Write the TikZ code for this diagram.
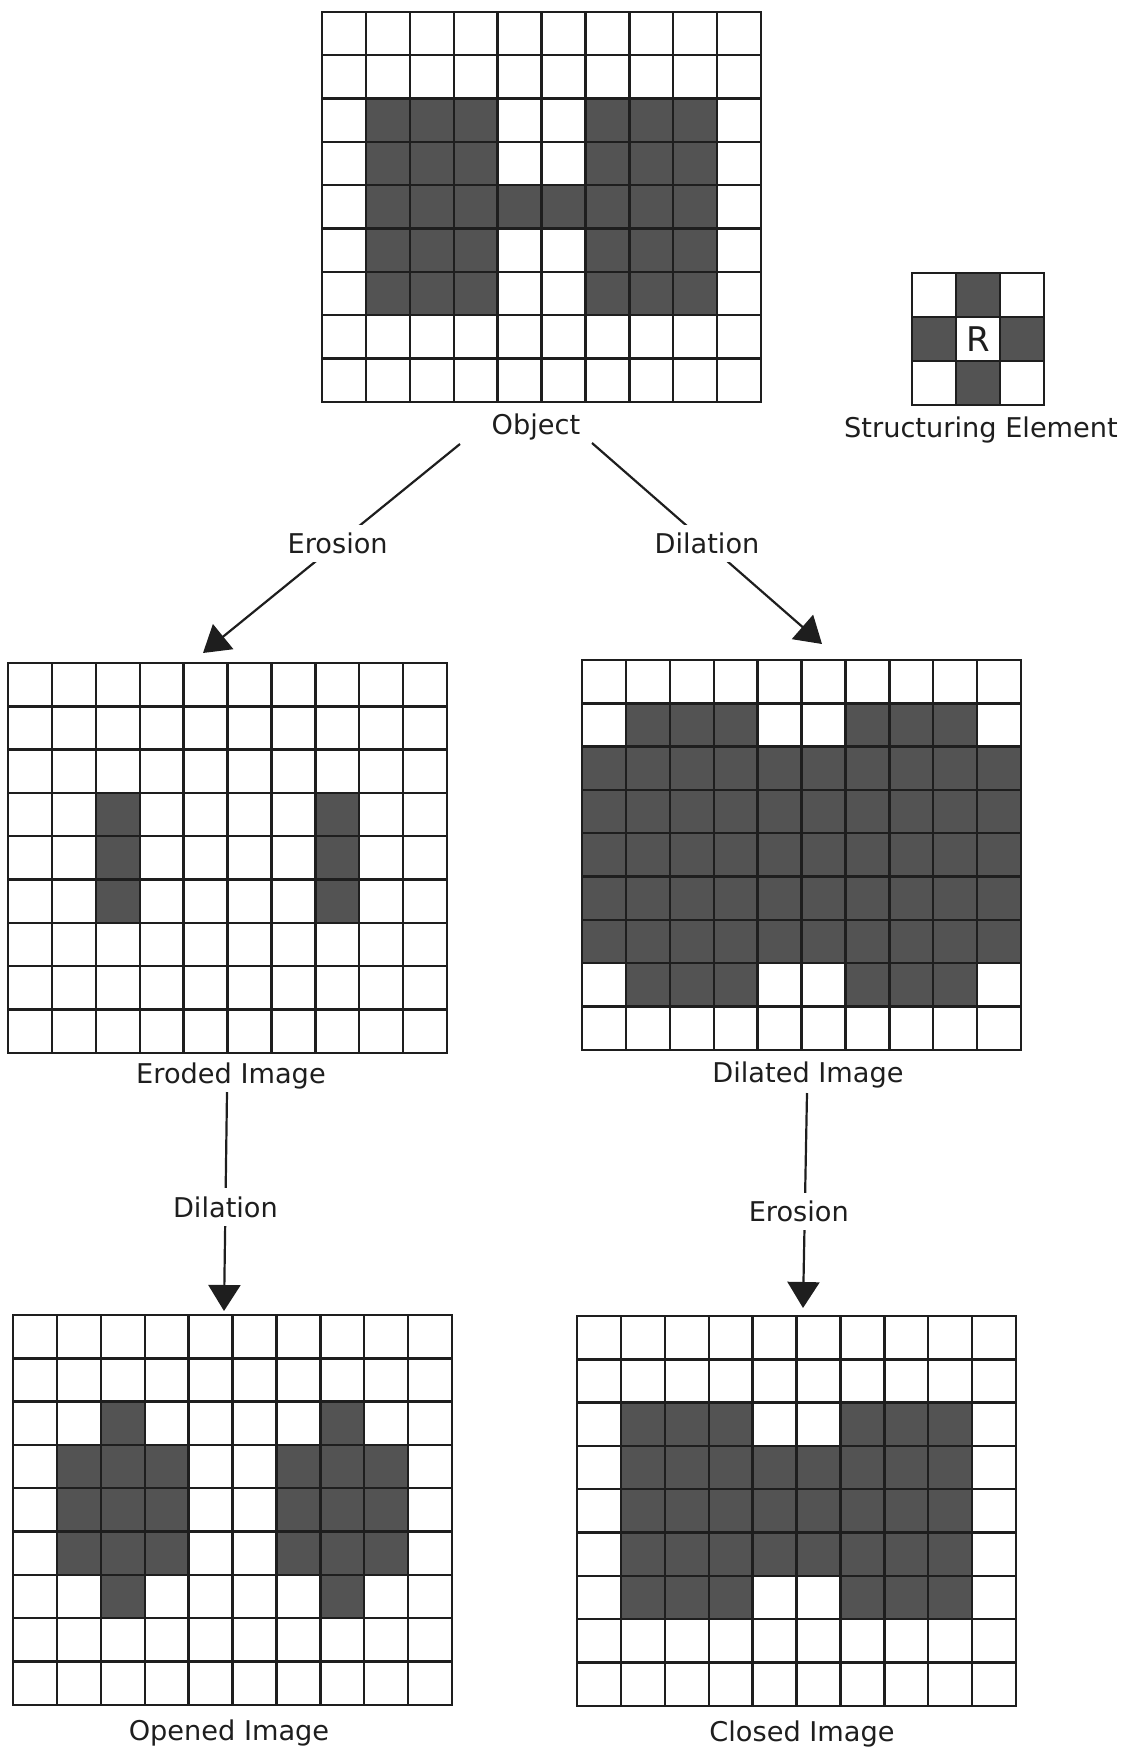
\documentclass[tikz,border=0pt]{standalone}
\usepackage{fontspec}
\setmainfont{DejaVu Sans}
\usepackage{tikz}
\usetikzlibrary{arrows.meta,positioning,calc}

\definecolor{cellgray}{HTML}{535353}
\definecolor{ink}{HTML}{1E1E1E}

\newcommand{\cellw}{43.9}
\newcommand{\cellh}{43.3}
\newcommand{\pixcell}[3]{\fill[cellgray] ($(#1)+(#2*\cellw,#3*\cellh)$) rectangle ++(\cellw,\cellh);}
\newcommand{\pixlines}[3]{%
  \foreach \i in {0,...,#2} \draw[gridline] ($(#1)+(\i*\cellw,0)$) -- ++(0,#3*\cellh);
  \foreach \j in {0,...,#3} \draw[gridline] ($(#1)+(0,\j*\cellh)$) -- ++(#2*\cellw,0);}

\begin{document}
\begin{tikzpicture}[x=0.5pt,y=-0.5pt,
gridline/.style={line width=1.2pt,draw=ink,line cap=rect},
imglbl/.style={font=\fontsize{13.6}{16}\selectfont,text=ink,anchor=base,inner sep=0pt},
oplbl/.style={font=\fontsize{13.6}{16}\selectfont,text=ink,fill=white,inner sep=4pt},
oparrow/.style={line width=1.1pt,draw=ink,-{Triangle[length=13pt,width=16pt]}}]
\useasboundingbox (0,0) rectangle (1130,1750);

% object
\coordinate (obj) at (322,12);
\foreach \rr in {2,...,6} \foreach \cc in {1,2,3,6,7,8} {\pixcell{obj}{\cc}{\rr}}
\foreach \cc in {4,5} {\pixcell{obj}{\cc}{4}}
\pixlines{obj}{10}{9}
\node[imglbl] (objtxt) at (536,434) {Object};

% structuring element
\begin{scope}
\renewcommand{\cellw}{44}\renewcommand{\cellh}{44}
\coordinate (se) at (912,273);
\foreach \cc/\rr in {1/0,0/1,2/1,1/2} {\pixcell{se}{\cc}{\rr}}
\pixlines{se}{3}{3}
\node[font=\fontsize{17}{20}\selectfont,text=ink,inner sep=0pt] (rtxt) at ($(se)+(66,66)$) {R};
\end{scope}
\node[imglbl] (setxt) at (981,437) {Structuring Element};

% eroded
\coordinate (ero) at (8,663);
\foreach \rr in {3,4,5} \foreach \cc in {2,7} {\pixcell{ero}{\cc}{\rr}}
\pixlines{ero}{10}{9}
\node[imglbl] (erotxt) at (231,1083) {Eroded Image};

% dilated
\coordinate (dil) at (582,660);
\foreach \rr in {1,7} \foreach \cc in {1,2,3,6,7,8} {\pixcell{dil}{\cc}{\rr}}
\foreach \rr in {2,...,6} \foreach \cc in {0,...,9} {\pixcell{dil}{\cc}{\rr}}
\pixlines{dil}{10}{9}
\node[imglbl] (diltxt) at (808,1082) {Dilated Image};

% opened
\coordinate (opn) at (13,1315);
\foreach \cc in {2,7} {\pixcell{opn}{\cc}{2} \pixcell{opn}{\cc}{6}}
\foreach \rr in {3,4,5} \foreach \cc in {1,2,3,6,7,8} {\pixcell{opn}{\cc}{\rr}}
\pixlines{opn}{10}{9}
\node[imglbl] (opntxt) at (229,1740) {Opened Image};

% closed
\coordinate (cls) at (577,1316);
\foreach \rr in {2,6} \foreach \cc in {1,2,3,6,7,8} {\pixcell{cls}{\cc}{\rr}}
\foreach \rr in {3,4,5} \foreach \cc in {1,...,8} {\pixcell{cls}{\cc}{\rr}}
\pixlines{cls}{10}{9}
\node[imglbl] (clstxt) at (802,1741) {Closed Image};

% operations
\coordinate (obj-l) at (460,444);
\coordinate (ero-top) at (203,653);
\coordinate (obj-r) at (592,443);
\coordinate (dil-top) at (822,644);
\coordinate (ero-bot) at (227,1092);
\coordinate (opn-top) at (224,1311);
\coordinate (dil-bot) at (807,1093);
\coordinate (cls-top) at (803,1308);
\draw[oparrow] (obj-l) -- node[oplbl,pos=0.476] (op1) {Erosion} (ero-top);
\draw[oparrow] (obj-r) -- node[oplbl,pos=0.5] (op2) {Dilation} (dil-top);
\draw[oparrow] (ero-bot) -- node[oplbl,pos=0.525] (op3) {Dilation} (opn-top);
\draw[oparrow] (dil-bot) -- node[oplbl,pos=0.55,xshift=-3pt] (op4) {Erosion} (cls-top);
\end{tikzpicture}
\end{document}
